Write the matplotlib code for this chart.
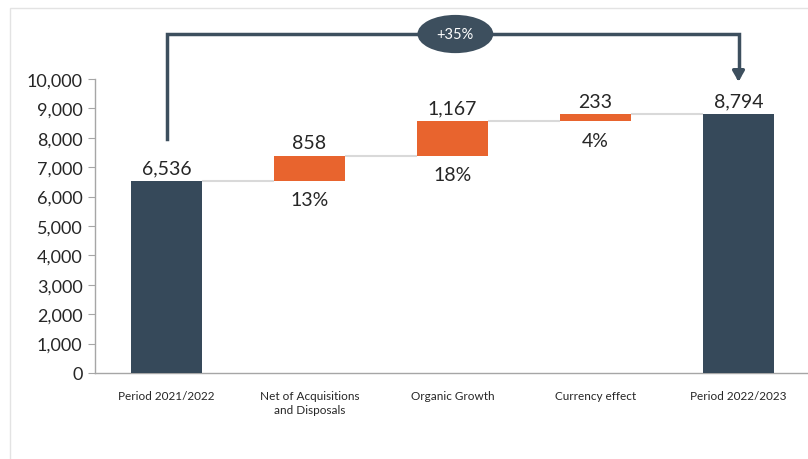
import matplotlib
matplotlib.use("Agg")
import matplotlib.pyplot as plt
from matplotlib.patches import Ellipse, Rectangle

# Waterfall data
categories = ["Period 2021/2022", "Net of Acquisitions\nand Disposals",
              "Organic Growth", "Currency effect", "Period 2022/2023"]
start_value = 6536
changes = [858, 1167, 233]
end_value = 8794
change_pct = ["13%", "18%", "4%"]
total_growth = "+35%"
yticks = list(range(0, 10001, 1000))

DARK = "#36495a"
ORANGE = "#e8642e"
TEXT = "#262626"

plt.rcParams["font.family"] = ["Lato", "DejaVu Sans"]

fig = plt.figure(figsize=(8.08, 4.60), dpi=100)
ax = fig.add_axes([95 / 808, 1 - 374 / 460, 715 / 808, 294 / 460])

# light frame around the chart area
fig.patches.append(Rectangle((10 / 808, -0.1), 1.1, 1 - 9 / 460 + 0.1,
                             transform=fig.transFigure, fill=False,
                             edgecolor="#e3e3e3", lw=1.0, zorder=0))

width = 0.5
x = list(range(len(categories)))

# totals
ax.bar(x[0], start_value, width=width, color=DARK, zorder=3)
ax.bar(x[-1], end_value, width=width, color=DARK, zorder=3)

# floating change bars
bottoms = []
level = start_value
for i, c in enumerate(changes):
    bottoms.append(level)
    ax.bar(x[i + 1], c, bottom=level, width=width, color=ORANGE, zorder=3)
    level += c

# connector lines between bars
levels = [start_value] + [b + c for b, c in zip(bottoms, changes)]
for i, lv in enumerate(levels):
    ax.plot([x[i] + width / 2, x[i + 1] - width / 2], [lv, lv],
            color="#d9d9d9", lw=1.5, zorder=2, solid_capstyle="butt")

# value labels
fs = 14
ax.text(x[0], start_value + 160, f"{start_value:,}", ha="center", va="bottom",
        fontsize=fs, color=TEXT)
ax.text(x[-1], end_value + 160, f"{end_value:,}", ha="center", va="bottom",
        fontsize=fs, color=TEXT)
for i, (b, c, p) in enumerate(zip(bottoms, changes, change_pct)):
    ax.text(x[i + 1], b + c + 160, f"{c:,}", ha="center", va="bottom",
            fontsize=fs, color=TEXT)
    ax.text(x[i + 1], b - 360, p, ha="center", va="top",
            fontsize=fs, color=TEXT)

# growth bracket from first to last total
top_y = 11530
ax.plot([x[0], x[0], x[-1], x[-1]], [7960, top_y, top_y, 10150],
        color="#3d4f5e", lw=2.5, clip_on=False, zorder=4,
        solid_joinstyle="miter")
ax.annotate("", xy=(x[-1], 9820), xytext=(x[-1], 10200),
            arrowprops=dict(arrowstyle="-|>,head_width=0.35,head_length=0.6",
                            color="#3d4f5e", lw=2.5),
            annotation_clip=False, zorder=4)
ell = Ellipse((2.02, top_y), width=0.53, height=1300, facecolor="#3d4f5e",
              edgecolor="none", clip_on=False, zorder=5)
ax.add_patch(ell)
ax.text(2.02, top_y, total_growth, ha="center", va="center", color="white",
        fontsize=10.5, zorder=6)

# axes styling
ax.set_xlim(-0.5, 4.5)
ax.set_ylim(0, 10000)
ax.set_yticks(yticks)
ax.set_yticklabels([f"{v:,}" for v in yticks], fontsize=13, color=TEXT)
ax.set_xticks(x)
ax.set_xticklabels(categories, fontsize=8.5, color=TEXT, linespacing=1.4)
ax.tick_params(axis="x", length=0, pad=12)
ax.tick_params(axis="y", length=5, color="#a6a6a6", pad=4)
for s in ["top", "right"]:
    ax.spines[s].set_visible(False)
ax.spines["left"].set_color("#a6a6a6")
ax.spines["bottom"].set_color("#a6a6a6")
ax.spines["left"].set_linewidth(1.0)
ax.spines["bottom"].set_linewidth(1.0)

fig.savefig("out.png", dpi=100)
